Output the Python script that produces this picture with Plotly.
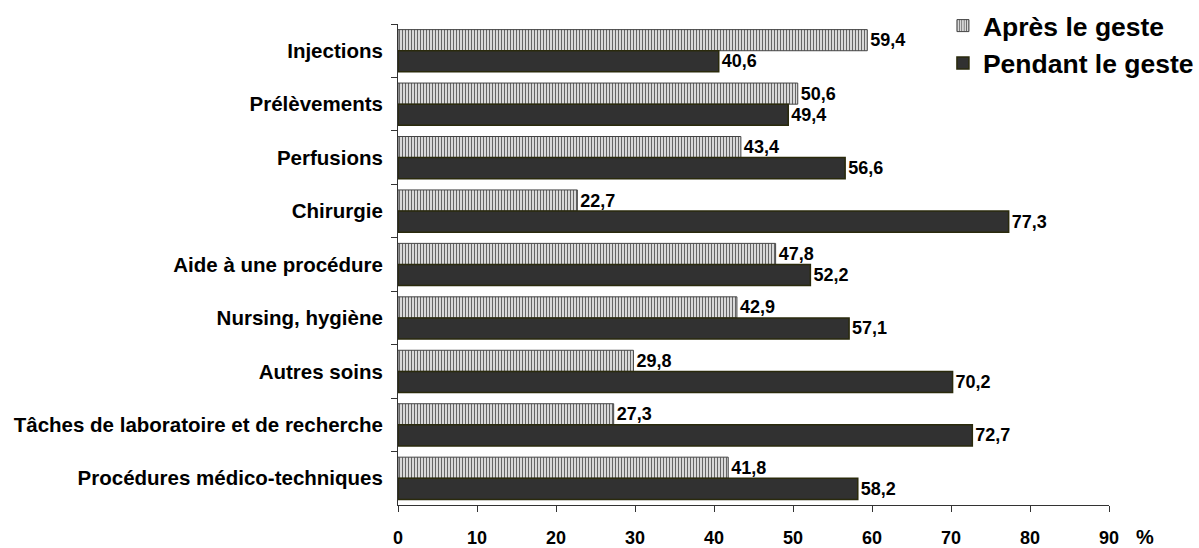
import plotly.graph_objects as go

categories = [
    "Injections",
    "Prélèvements",
    "Perfusions",
    "Chirurgie",
    "Aide à une procédure",
    "Nursing, hygiène",
    "Autres soins",
    "Tâches de laboratoire et de recherche",
    "Procédures médico-techniques",
]
apres = [59.4, 50.6, 43.4, 22.7, 47.8, 42.9, 29.8, 27.3, 41.8]
pendant = [40.6, 49.4, 56.6, 77.3, 52.2, 57.1, 70.2, 72.7, 58.2]
x_ticks = [0, 10, 20, 30, 40, 50, 60, 70, 80, 90]
series_names = ["Après le geste", "Pendant le geste"]

FONT = "Liberation Sans, Arial, sans-serif"


def fmt(v):
    return f"{v:.1f}".replace(".", ",")


fig = go.Figure()
fig.add_trace(go.Bar(
    y=categories, x=apres, orientation="h", name=series_names[0],
    legendgroup="a",
    text=[fmt(v) for v in apres], textposition="outside",
    textfont=dict(family=FONT, size=18, color="black", weight="bold"),
    cliponaxis=False,
    marker=dict(
        color="white",
        line=dict(color="#444444", width=1),
        pattern=dict(shape="|", size=3, solidity=0.45, fgcolor="#666666",
                     bgcolor="#f2f2f2", fillmode="replace"),
    ),
))
fig.add_trace(go.Bar(
    y=categories, x=pendant, orientation="h", name=series_names[1],
    legendgroup="b",
    text=[fmt(v) for v in pendant], textposition="outside",
    textfont=dict(family=FONT, size=18, color="black", weight="bold"),
    cliponaxis=False,
    marker=dict(color="#313131", line=dict(color="#2a2a0c", width=1.5)),
))

fig.update_layout(
    template="none",
    width=1199, height=548,
    margin=dict(l=398, r=90, t=24, b=43, autoexpand=False),
    paper_bgcolor="white", plot_bgcolor="white",
    barmode="group", bargap=0.21, bargroupgap=0,
    separators=", ",
    font=dict(family=FONT, color="black"),
    showlegend=True,
    legend=dict(
        xref="paper", yref="paper",
        x=1.1265, y=1.046, xanchor="right", yanchor="top",
        font=dict(family=FONT, size=26.5, color="black", weight="bold"),
        traceorder="normal", tracegroupgap=4,
        bgcolor="rgba(0,0,0,0)", itemwidth=30,
    ),
    xaxis=dict(
        range=[0, 90], tickvals=x_ticks, automargin=False,
        showgrid=False, zeroline=False,
        showline=True, linecolor="#333333", linewidth=1,
        ticks="outside", ticklen=6, tickcolor="#333333",
        ticklabelstandoff=10,
        tickfont=dict(family=FONT, size=18, color="black", weight="bold"),
    ),
    yaxis=dict(
        autorange="reversed", automargin=False,
        showgrid=False, zeroline=False,
        showline=True, linecolor="#333333", linewidth=1,
        ticks="outside", ticklen=6, tickcolor="#333333",
        tickson="boundaries", ticklabelstandoff=10,
        tickfont=dict(family=FONT, size=20.5, color="black", weight="bold"),
    ),
    annotations=[dict(
        text="%", xref="paper", yref="paper", x=1.0506, y=-0.066,
        xanchor="center", yanchor="middle", showarrow=False,
        font=dict(family=FONT, size=20, color="black", weight="bold"),
    )],
)

fig.write_html(
    "out.html",
    config={"displayModeBar": False},
    post_script="document.body.style.margin='0';document.body.style.overflow='hidden';",
)
